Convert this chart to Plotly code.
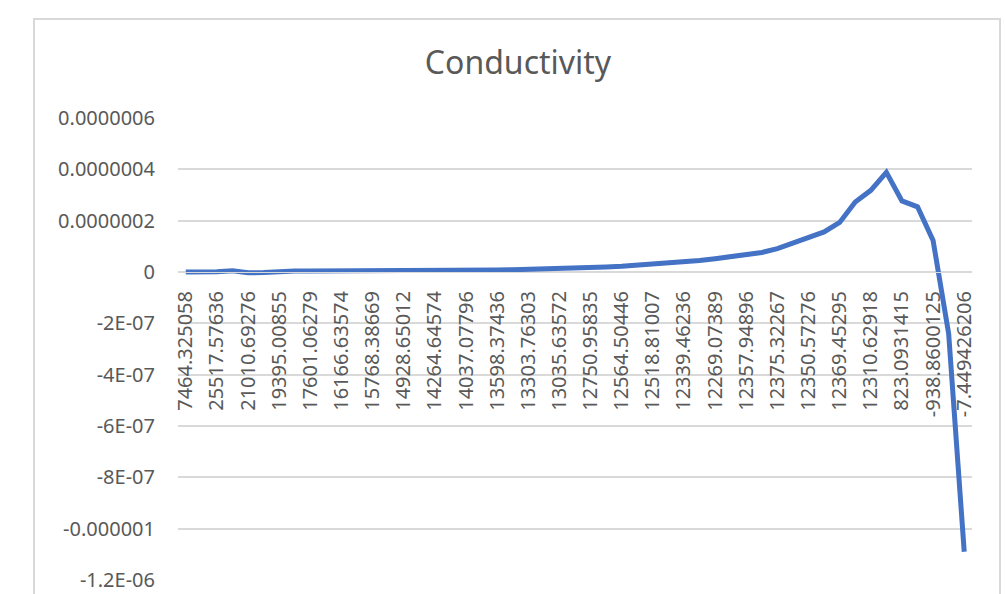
import plotly.graph_objects as go

# ---- data ----
tick_labels = [
    "7464.325058", "25517.57636", "21010.69276", "19395.00855", "17601.06279",
    "16166.63574", "15768.38669", "14928.65012", "14264.64574", "14037.07796",
    "13598.37436", "13303.76303", "13035.63572", "12750.95835", "12564.50446",
    "12518.81007", "12339.46236", "12269.07389", "12357.94896", "12375.32267",
    "12350.57276", "12369.45295", "12310.62918", "823.0931415", "-938.8600125",
    "-7.449426206",
]

conductivity = [
    0.0e-9, 0.0e-9, 1.0e-9, 5.0e-9, -3.0e-9, -2.0e-9, 3.0e-9, 4.0e-9, 4.0e-9, 4.0e-9,
    4.0e-9, 4.0e-9, 4.0e-9, 4.0e-9, 4.0e-9, 4.0e-9, 4.0e-9, 4.0e-9, 5.0e-9, 6.0e-9,
    8.0e-9, 9.0e-9, 10.0e-9, 12.0e-9, 13.0e-9, 15.0e-9, 17.0e-9, 19.0e-9, 22.0e-9, 26.0e-9,
    30.0e-9, 34.0e-9, 38.0e-9, 45.0e-9, 52.0e-9, 59.0e-9, 65.0e-9, 76.0e-9, 91.0e-9, 111.0e-9,
    136.0e-9, 156.0e-9, 193.0e-9, 273.0e-9, 318.0e-9, 388.0e-9, 277.0e-9, 254.0e-9, 123.0e-9, -240.0e-9,
    -1090.0e-9,
]

y_tickvals = [6e-7, 4e-7, 2e-7, 0, -2e-7, -4e-7, -6e-7, -8e-7, -1e-6, -1.2e-6]
y_ticktext = ["0.0000006", "0.0000004", "0.0000002", "0", "-2E-07", "-4E-07",
              "-6E-07", "-8E-07", "-0.000001", "-1.2E-06"]

# ---- geometry ----
W, H = 1005, 594
L, R, T, B = 178, 33, 118, 14
pw, ph = W - L - R, H - T - B
y_min, y_max = -1.2e-6, 6e-7

x_idx = list(range(len(conductivity)))
label_pos = x_idx[::2]

font_family = "Noto Sans, Open Sans, sans-serif"
text_color = "#595959"

fig = go.Figure()
fig.add_trace(go.Scatter(
    x=x_idx, y=conductivity, mode="lines",
    line=dict(color="#4472C4", width=5),
    hoverinfo="y", showlegend=False,
))

def px_x(p):
    return (p - L) / pw

def px_y(p):
    return (H - B - p) / ph

fig.update_layout(
    width=W, height=H,
    margin=dict(l=L, r=R, t=T, b=B, autoexpand=False),
    paper_bgcolor="white", plot_bgcolor="white",
    font=dict(family=font_family, color=text_color, size=20),
    title=dict(text="Conductivity", xref="container", yref="container",
               x=518 / W, y=1 - 63 / H, xanchor="center", yanchor="middle",
               font=dict(size=32, color=text_color, family=font_family)),
    xaxis=dict(
        range=[-0.5, len(conductivity) - 0.5],
        tickmode="array", tickvals=label_pos, ticktext=tick_labels,
        tickangle=-90, showgrid=False, zeroline=False,
        showline=True, linecolor="#D9D9D9", linewidth=1,
        anchor="free", position=(0 - y_min) / (y_max - y_min),
        ticks="", ticklabelstandoff=10, automargin=False,
        tickfont=dict(size=20, color=text_color),
        fixedrange=True,
    ),
    yaxis=dict(
        range=[y_min, y_max],
        tickmode="array", tickvals=y_tickvals, ticktext=y_ticktext,
        showgrid=True, gridcolor="#D9D9D9", gridwidth=1.5,
        zeroline=False, showline=False, ticks="",
        ticklabelstandoff=22, automargin=False,
        tickfont=dict(size=20, color=text_color),
        fixedrange=True,
    ),
    shapes=[dict(
        type="rect", xref="paper", yref="paper",
        x0=px_x(34), x1=px_x(1000), y0=px_y(610), y1=px_y(19),
        line=dict(color="#D9D9D9", width=2), fillcolor="rgba(0,0,0,0)",
        layer="below",
    )],
)

fig.write_html(
    "out.html",
    config={"displayModeBar": False},
    post_script="document.body.style.margin='0';document.body.style.overflow='hidden';",
)
